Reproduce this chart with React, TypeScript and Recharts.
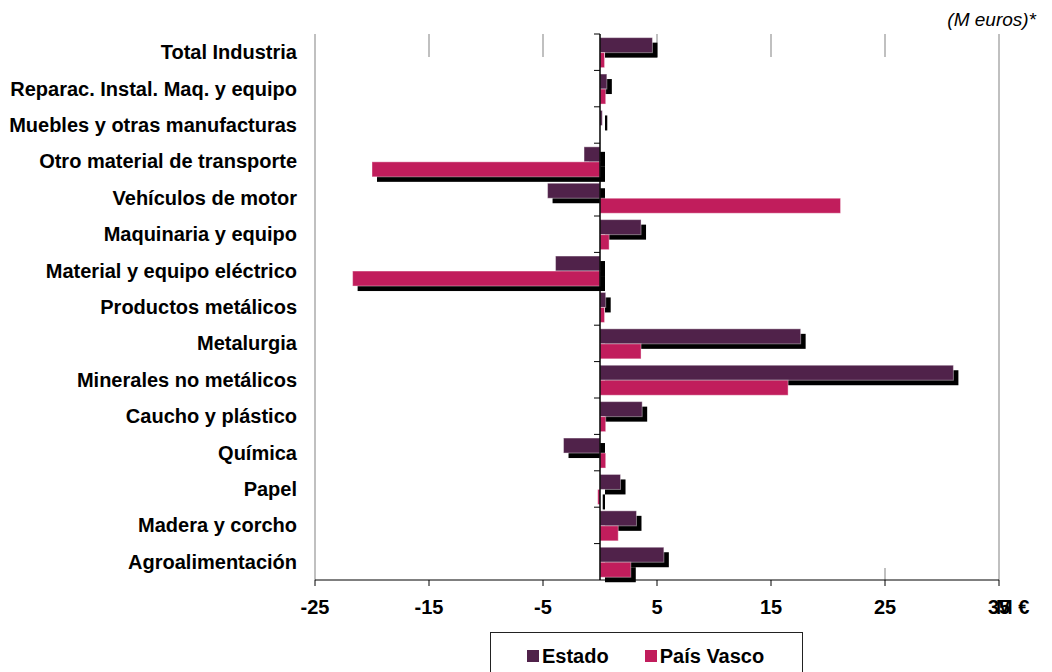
import React from "react";
import {
  BarChart,
  Bar,
  XAxis,
  YAxis,
  CartesianGrid,
  ReferenceLine,
  Legend,
} from "recharts";

const sectores = [
  "Total Industria",
  "Reparac. Instal. Maq. y equipo",
  "Muebles y otras manufacturas",
  "Otro material de transporte",
  "Vehículos de motor",
  "Maquinaria y equipo",
  "Material y equipo eléctrico",
  "Productos metálicos",
  "Metalurgia",
  "Minerales no metálicos",
  "Caucho y plástico",
  "Química",
  "Papel",
  "Madera y corcho",
  "Agroalimentación",
];

// M euros
const estado = [4.6, 0.6, 0.2, -1.4, -4.6, 3.6, -3.9, 0.5, 17.6, 31.0, 3.7, -3.2, 1.8, 3.2, 5.6];
const paisVasco = [0.4, 0.5, 0, -20.0, 21.1, 0.8, -21.7, 0.4, 3.6, 16.5, 0.5, 0.5, -0.2, 1.6, 2.7];

const ejeX = [-25, -15, -5, 5, 15, 25, 35];

const FONT = "'Liberation Sans', Arial, Helvetica, sans-serif";
const FS = 20;
const COLOR_ESTADO = "#50224a";
const COLOR_PV = "#c11d5c";

const W = 1052;
const H = 672;
const MARGIN = { top: 34, right: 53, bottom: 62, left: 0 };
const EJE_Y_ANCHO = 315;
const EJE_X_ALTO = 30;

const PLOT_LEFT = MARGIN.left + EJE_Y_ANCHO;
const PLOT_W = W - MARGIN.right - PLOT_LEFT;
const PLOT_H = H - MARGIN.top - MARGIN.bottom - EJE_X_ALTO;
const BANDA = PLOT_H / sectores.length;
const X_MIN = ejeX[0];
const X_MAX = ejeX[ejeX.length - 1];
const CERO_X = PLOT_LEFT + (PLOT_W * (0 - X_MIN)) / (X_MAX - X_MIN);

const datos = sectores.map((sector, i) => ({
  sector,
  estado: estado[i],
  paisVasco: paisVasco[i],
}));

// label on the left + small boundary tick on the zero axis
const CategoriaTick = (props: any) => {
  const { y, payload } = props;
  const yb = y - BANDA / 2;
  return (
    <g>
      <text
        x={PLOT_LEFT - 18}
        y={y}
        dy="0.35em"
        textAnchor="end"
        fontFamily={FONT}
        fontSize={FS}
        fontWeight="bold"
        fill="#000"
      >
        {payload.value}
      </text>
      <line x1={CERO_X - 6} x2={CERO_X} y1={yb} y2={yb} stroke="#000" strokeWidth={1} />
    </g>
  );
};

// bar with the black drop shadow offset down-right
const BarraSombra = (props: any) => {
  const { x, y, width, height, fill, conSombra, index, value } = props;
  const w = Math.abs(width);
  if (!w) return null;
  const left = width < 0 ? x + width : x;
  const v = Array.isArray(value) ? value[1] - value[0] : value;
  const sombra = conSombra ? conSombra(index, v) : true;
  return (
    <g>
      {sombra && <rect x={left + 5} y={y + 5} width={w} height={height} fill="#000" />}
      <rect
        x={left}
        y={y}
        width={w}
        height={height}
        fill={fill}
        stroke="rgba(255,255,255,0.4)"
        strokeWidth={1}
      />
    </g>
  );
};

// the País Vasco shadow only shows on negative bars and on the bottom row
const sombraPV = (index: number, v: number) => v < 0 || index === sectores.length - 1;

// only the outer gridlines run full height; inner ones are short stubs
const LineaGuia = (props: any) => {
  const { x1, y1, y2, index } = props;
  const top = Math.min(y1, y2);
  const bottom = Math.max(y1, y2);
  const ultimo = ejeX.length - 1;
  const color = "#c0c0c0";
  if (index === 0 || index === ultimo) {
    return <line x1={x1} x2={x1} y1={top} y2={bottom} stroke={color} strokeWidth={2} />;
  }
  return (
    <g>
      <line x1={x1} x2={x1} y1={top} y2={top + 23} stroke={color} strokeWidth={2} />
      {index === ultimo - 1 && (
        <line x1={x1} x2={x1} y1={bottom - 12} y2={bottom} stroke={color} strokeWidth={2} />
      )}
    </g>
  );
};

const UnidadEje = (props: any) => {
  const { viewBox } = props;
  return (
    <text
      x={viewBox.x + viewBox.width - 3}
      y={viewBox.y + 20}
      dy="0.71em"
      textAnchor="start"
      fontFamily={FONT}
      fontSize={FS}
      fontWeight="bold"
      fill="#000"
    >
      M €
    </text>
  );
};

const Leyenda = (props: any) => {
  const { payload = [] } = props;
  return (
    <div
      style={{
        boxSizing: "border-box",
        width: 313,
        height: 50,
        border: "1px solid #222",
        background: "#fff",
        display: "flex",
        alignItems: "flex-start",
        paddingLeft: 36,
        paddingTop: 11,
        gap: 36,
        fontFamily: FONT,
        fontSize: FS,
        fontWeight: "bold",
        lineHeight: "24px",
      }}
    >
      {payload.map((e: any) => (
        <span key={e.value} style={{ display: "flex", alignItems: "center" }}>
          <span
            style={{
              display: "inline-block",
              width: 12,
              height: 12,
              background: e.color,
              marginRight: 3,
            }}
          />
          {e.value}
        </span>
      ))}
    </div>
  );
};

export default function App() {
  return (
    <div
      style={{
        position: "absolute",
        left: 0,
        top: 0,
        width: W,
        height: H,
        background: "#fff",
        overflow: "hidden",
      }}
    >
      <div
        style={{
          position: "absolute",
          right: 16,
          top: 9,
          fontFamily: FONT,
          fontSize: 19,
          fontStyle: "italic",
          lineHeight: "22px",
          color: "#000",
        }}
      >
        (M euros)*
      </div>
      <BarChart
        width={W}
        height={H}
        data={datos}
        layout="vertical"
        margin={MARGIN}
        barCategoryGap="10%"
        barGap={0}
      >
        <CartesianGrid horizontal={false} vertical={LineaGuia} />
        <XAxis
          type="number"
          domain={[X_MIN, X_MAX]}
          ticks={ejeX}
          interval={0}
          height={EJE_X_ALTO}
          axisLine={{ stroke: "#000", strokeWidth: 1 }}
          tickLine={{ stroke: "#000" }}
          tickSize={6}
          tickMargin={14}
          tick={{ fontFamily: FONT, fontSize: FS, fontWeight: "bold", fill: "#000" }}
          label={<UnidadEje />}
        />
        <YAxis
          type="category"
          dataKey="sector"
          width={EJE_Y_ANCHO}
          axisLine={false}
          tickLine={false}
          interval={0}
          tick={<CategoriaTick />}
        />
        <Legend
          layout="horizontal"
          verticalAlign="middle"
          align="center"
          wrapperStyle={{ left: 490, top: 632, width: 313, height: 50 }}
          content={<Leyenda />}
        />
        <Bar
          dataKey="estado"
          name="Estado"
          fill={COLOR_ESTADO}
          legendType="square"
          shape={<BarraSombra />}
          isAnimationActive={false}
        />
        <Bar
          dataKey="paisVasco"
          name="País Vasco"
          fill={COLOR_PV}
          legendType="square"
          shape={<BarraSombra conSombra={sombraPV} />}
          isAnimationActive={false}
        />
        <ReferenceLine x={0} stroke="#000" strokeWidth={1.5} />
      </BarChart>
    </div>
  );
}
